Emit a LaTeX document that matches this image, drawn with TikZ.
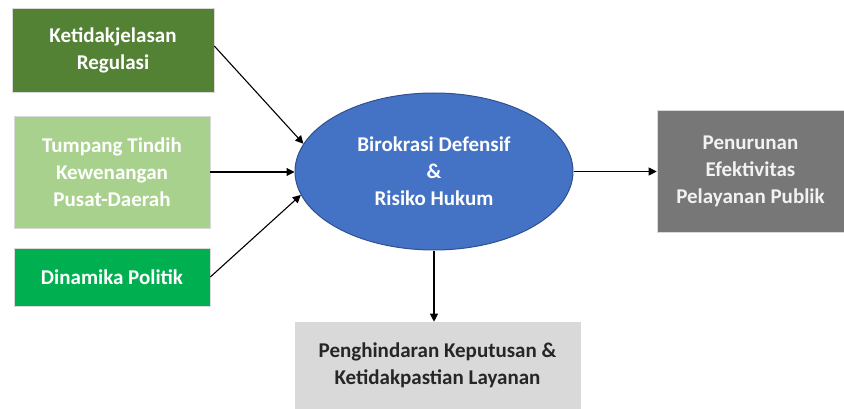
\documentclass[tikz,border=0pt]{standalone}
\usepackage{fontspec}
\setmainfont{Carlito}
\usetikzlibrary{shapes.geometric,arrows.meta}
\definecolor{dkgreen}{HTML}{548235}
\definecolor{ltgreen}{HTML}{A9D18E}
\definecolor{brgreen}{HTML}{00B050}
\definecolor{elblue}{HTML}{4472C4}
\definecolor{elborder}{HTML}{2F528F}
\definecolor{dkgray}{HTML}{777777}
\definecolor{ltgray}{HTML}{D9D9D9}
\tikzset{
  txt/.style={font=\fontsize{21}{27}\selectfont\bfseries},
  box/.style={rectangle, draw=white!85!black, line width=0.6pt, align=center, inner sep=2pt, txt},
  conn/.style={draw=black, line width=1.1pt, -{Triangle[length=8pt,width=8pt]}}
}
\begin{document}
\begin{tikzpicture}[x=1pt,y=-1pt]
\useasboundingbox (0,0) rectangle (844,409);
\node[box, fill=dkgreen, text=white, minimum width=202pt, minimum height=84pt] (b1) at (113,50) {Ketidakjelasan\\Regulasi};
\node[box, fill=ltgreen, text=white, minimum width=196pt, minimum height=112pt] (b2) at (112,172) {Tumpang Tindih\\Kewenangan\\Pusat-Daerah};
\node[box, fill=brgreen, text=white, minimum width=196pt, minimum height=58pt] (b3) at (112,277) {Dinamika Politik};
\node[ellipse, draw=elborder, line width=1pt, fill=elblue, text=white, minimum width=278pt, minimum height=157pt, inner sep=0pt, align=center, txt] (e) at (434,171.5) {Birokrasi Defensif\\\&\\Risiko Hukum};
\node[box, fill=dkgray, text=white!95!black, minimum width=187pt, minimum height=122pt] (b4) at (750.5,171) {Penurunan\\Efektivitas\\Pelayanan Publik};
\node[box, fill=ltgray, text=black!85, minimum width=285pt, minimum height=86pt] (b5) at (437.5,365) {Penghindaran Keputusan \&\\Ketidakpastian Layanan};
\draw[conn] ([yshift=4pt]b1.east) -- (e.168);
\draw[conn] (b2.east) -- (e.west |- b2.east);
\draw[conn] (b3.east) -- (e.190);
\draw[conn] (e.east) -- (b4.west |- e.east);
\draw[conn] (e.south) -- (e.south |- b5.north);
\end{tikzpicture}
\end{document}
